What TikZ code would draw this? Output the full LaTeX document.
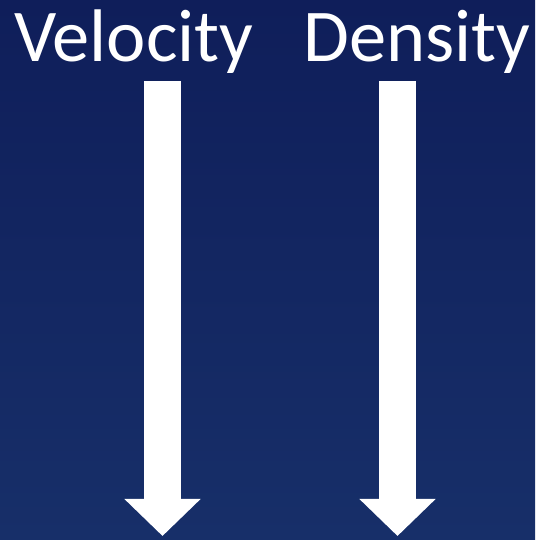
\documentclass[tikz,border=0pt]{standalone}
\usepackage{fontspec}
\setmainfont{Carlito}
\usepackage{tikz}
\usepackage{xcolor}
\usetikzlibrary{arrows.meta,positioning,calc}
\definecolor{navytop}   {HTML}{0F1E5A}
\definecolor{navybot}   {HTML}{172F69}
\definecolor{chalk}     {HTML}{FFFFFF}

\begin{document}
\begin{tikzpicture}[x=1pt,y=1pt,
    label/.style={text=chalk,font=\fontsize{74.5}{80}\selectfont,inner sep=0pt,anchor=base west},
    bigarrow/.style={draw=chalk,line width=37pt,line cap=butt,
                     -{Triangle[width=74pt,length=37pt]}}]
  % background
  \shade[top color=navytop,bottom color=navybot] (0,0) rectangle (535,540);
  \useasboundingbox (0,0) rectangle (535,540);

  % headings
  \node[label] (vel)  at (14,478)  {Velocity};
  \node[label] (dens) at (303,478) {Density};

  % arrows
  \coordinate (velTop)  at (162.5,459);
  \coordinate (velEnd)  at (162.5,4);
  \coordinate (densTop) at (397.5,459);
  \coordinate (densEnd) at (397.5,4);
  \draw[bigarrow] (velTop) -- (velEnd);
  \draw[bigarrow] (densTop) -- (densEnd);
\end{tikzpicture}
\end{document}
